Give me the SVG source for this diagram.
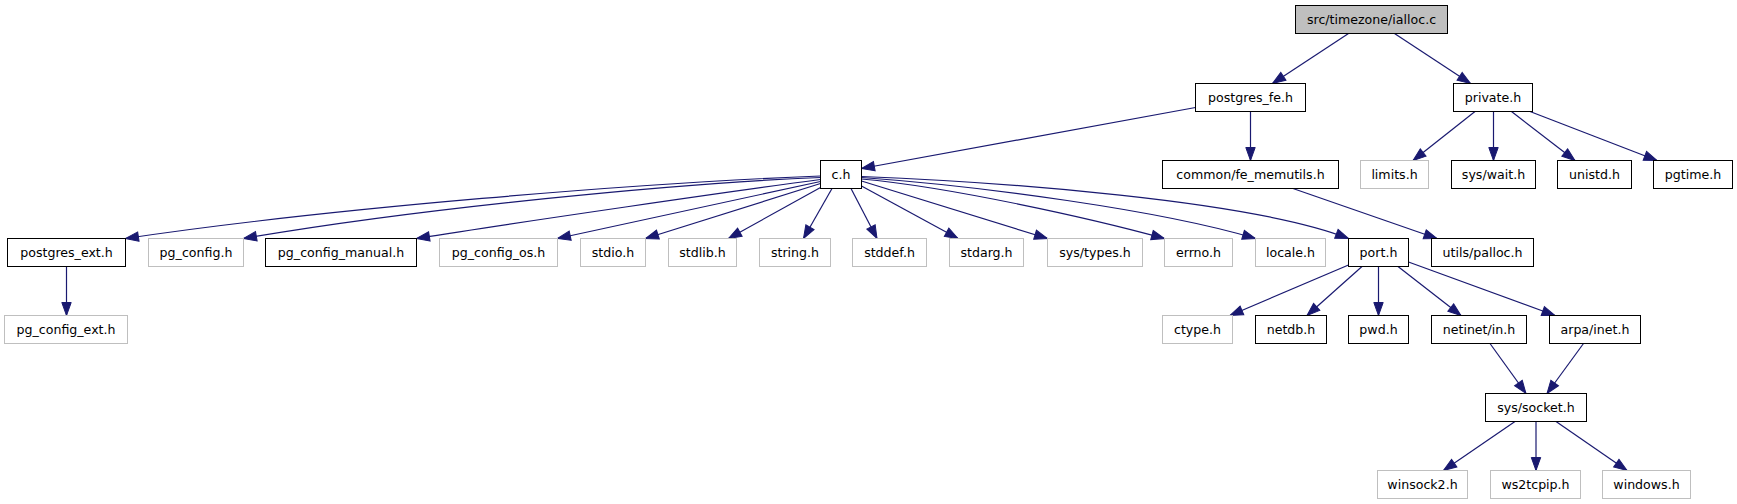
<svg xmlns="http://www.w3.org/2000/svg" width="1737" height="504" viewBox="0 0 1737 504">
<defs>
<style>
rect{stroke-width:1}
.b{fill:#ffffff;stroke:#000000}
.g{fill:#ffffff;stroke:#bfbfbf}
.r{fill:#bfbfbf;stroke:#000000}
text{font-family:"DejaVu Sans","Liberation Sans",sans-serif;font-size:12.6px;fill:#000000;text-anchor:middle}
#edges path{fill:none;stroke:#191970;stroke-width:1.2;marker-end:url(#ah)}
</style>
<marker id="ah" markerUnits="userSpaceOnUse" markerWidth="16" markerHeight="12" refX="13" refY="4.7" orient="auto" overflow="visible">
<path d="M0,0 L13,4.7 L0,9.4 Z" fill="#191970" stroke="#191970" stroke-width="1"/>
</marker>
</defs>
<rect x="0" y="0" width="1737" height="504" fill="#ffffff"/>
<g id="edges">
<path d="M1348.5,33.5 L1272.5,83.5"/>
<path d="M1394.5,33.5 L1470.5,83.5"/>
<path d="M1195.5,107.5 L861.5,168.5"/>
<path d="M1250.5,111.5 L1250.5,160.5"/>
<path d="M1475,111.5 L1413,160.5"/>
<path d="M1493.5,111.5 L1493.5,160.5"/>
<path d="M1511.5,111.5 L1575,160.5"/>
<path d="M1530,111.5 L1657,160.5"/>
<path d="M1293,188.5 L1437,238.5"/>
<path d="M820.5,176 C640,183 330,208 125.5,238.5"/>
<path d="M820.5,177.5 C680,183 420,208 243.5,238.5"/>
<path d="M820.5,179.5 C740,190 520,222 416.5,238.5"/>
<path d="M820.5,181.5 L557.5,238.5"/>
<path d="M820.5,183.5 L645.5,238.5"/>
<path d="M820.5,187.5 L728.5,238.5"/>
<path d="M832,188.5 L803.5,238.5"/>
<path d="M851,188.5 L877,238.5"/>
<path d="M861.5,186 L958,238.5"/>
<path d="M861.5,181 L1047.5,238.5"/>
<path d="M861.5,179 C950,187 1090,218 1164.5,238.5"/>
<path d="M861.5,177.5 C980,186 1160,210 1255.5,238.5"/>
<path d="M861.5,176.5 C1000,182 1250,200 1348.5,238.5"/>
<path d="M66.5,266.5 L66.5,315.5"/>
<path d="M1348.5,265 L1230,315.5"/>
<path d="M1362,266.5 L1307,315.5"/>
<path d="M1378.5,266.5 L1378.5,315.5"/>
<path d="M1398,266.5 L1461,315.5"/>
<path d="M1408.5,262 L1555,315.5"/>
<path d="M1490,343.5 L1526,393.5"/>
<path d="M1583.5,343.5 L1547,393.5"/>
<path d="M1515,421.5 L1443.5,470.5"/>
<path d="M1536,421.5 L1536,470.5"/>
<path d="M1556,421.5 L1627,470.5"/>
</g>
<g id="n_ialloc"><rect class="r" x="1295.5" y="5.5" width="152" height="28"/><text x="1371.5" y="24">src/timezone/ialloc.c</text></g>
<g id="n_postgres_fe"><rect class="b" x="1195.5" y="83.5" width="110" height="28"/><text x="1250.5" y="102">postgres_fe.h</text></g>
<g id="n_private"><rect class="b" x="1453.5" y="83.5" width="79" height="28"/><text x="1493" y="102">private.h</text></g>
<g id="n_c"><rect class="b" x="820.5" y="160.5" width="41" height="28"/><text x="841" y="179">c.h</text></g>
<g id="n_fe_memutils"><rect class="b" x="1162.5" y="160.5" width="176" height="28"/><text x="1250.5" y="179">common/fe_memutils.h</text></g>
<g id="n_limits"><rect class="g" x="1360.5" y="160.5" width="68" height="28"/><text x="1394.5" y="179">limits.h</text></g>
<g id="n_syswait"><rect class="b" x="1451.5" y="160.5" width="84" height="28"/><text x="1493.5" y="179">sys/wait.h</text></g>
<g id="n_unistd"><rect class="b" x="1557.5" y="160.5" width="74" height="28"/><text x="1594.5" y="179">unistd.h</text></g>
<g id="n_pgtime"><rect class="b" x="1653.5" y="160.5" width="79" height="28"/><text x="1693" y="179">pgtime.h</text></g>
<g id="n_postgres_ext"><rect class="b" x="7.5" y="238.5" width="118" height="28"/><text x="66.5" y="257">postgres_ext.h</text></g>
<g id="n_pg_config"><rect class="g" x="148.5" y="238.5" width="95" height="28"/><text x="196" y="257">pg_config.h</text></g>
<g id="n_pg_config_manual"><rect class="b" x="265.5" y="238.5" width="151" height="28"/><text x="341" y="257">pg_config_manual.h</text></g>
<g id="n_pg_config_os"><rect class="g" x="439.5" y="238.5" width="118" height="28"/><text x="498.5" y="257">pg_config_os.h</text></g>
<g id="n_stdio"><rect class="g" x="580.5" y="238.5" width="65" height="28"/><text x="613" y="257">stdio.h</text></g>
<g id="n_stdlib"><rect class="g" x="668.5" y="238.5" width="68" height="28"/><text x="702.5" y="257">stdlib.h</text></g>
<g id="n_string"><rect class="g" x="759.5" y="238.5" width="71" height="28"/><text x="795" y="257">string.h</text></g>
<g id="n_stddef"><rect class="g" x="852.5" y="238.5" width="74" height="28"/><text x="889.5" y="257">stddef.h</text></g>
<g id="n_stdarg"><rect class="g" x="949.5" y="238.5" width="74" height="28"/><text x="986.5" y="257">stdarg.h</text></g>
<g id="n_systypes"><rect class="g" x="1047.5" y="238.5" width="95" height="28"/><text x="1095" y="257">sys/types.h</text></g>
<g id="n_errno"><rect class="g" x="1164.5" y="238.5" width="68" height="28"/><text x="1198.5" y="257">errno.h</text></g>
<g id="n_locale"><rect class="g" x="1255.5" y="238.5" width="70" height="28"/><text x="1290.5" y="257">locale.h</text></g>
<g id="n_port"><rect class="b" x="1348.5" y="238.5" width="60" height="28"/><text x="1378.5" y="257">port.h</text></g>
<g id="n_palloc"><rect class="b" x="1431.5" y="238.5" width="102" height="28"/><text x="1482.5" y="257">utils/palloc.h</text></g>
<g id="n_pg_config_ext"><rect class="g" x="4.5" y="315.5" width="123" height="28"/><text x="66" y="334">pg_config_ext.h</text></g>
<g id="n_ctype"><rect class="g" x="1162.5" y="315.5" width="70" height="28"/><text x="1197.5" y="334">ctype.h</text></g>
<g id="n_netdb"><rect class="b" x="1255.5" y="315.5" width="71" height="28"/><text x="1291" y="334">netdb.h</text></g>
<g id="n_pwd"><rect class="b" x="1348.5" y="315.5" width="60" height="28"/><text x="1378.5" y="334">pwd.h</text></g>
<g id="n_netinet"><rect class="b" x="1431.5" y="315.5" width="95" height="28"/><text x="1479" y="334">netinet/in.h</text></g>
<g id="n_arpa"><rect class="b" x="1549.5" y="315.5" width="91" height="28"/><text x="1595" y="334">arpa/inet.h</text></g>
<g id="n_socket"><rect class="b" x="1485.5" y="393.5" width="101" height="28"/><text x="1536" y="412">sys/socket.h</text></g>
<g id="n_winsock2"><rect class="g" x="1377.5" y="470.5" width="90" height="28"/><text x="1422.5" y="489">winsock2.h</text></g>
<g id="n_ws2tcpip"><rect class="g" x="1490.5" y="470.5" width="90" height="28"/><text x="1535.5" y="489">ws2tcpip.h</text></g>
<g id="n_windows"><rect class="g" x="1602.5" y="470.5" width="88" height="28"/><text x="1646.5" y="489">windows.h</text></g>
</svg>
